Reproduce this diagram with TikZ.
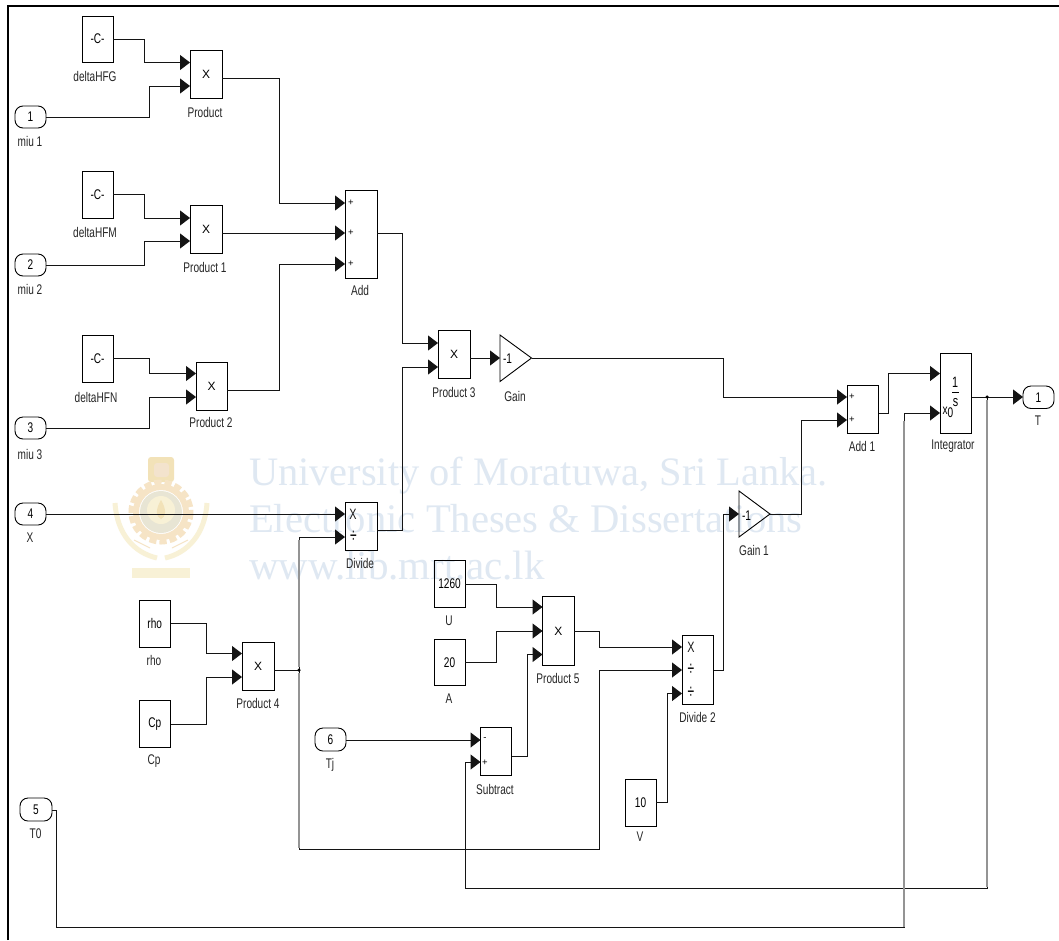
\documentclass[tikz,border=0pt]{standalone}
\usepackage{fontspec}
\setmainfont[FakeStretch=0.72]{Liberation Sans}
\newfontfamily\wmfont{Liberation Serif}
\newfontfamily\xfont{Liberation Sans}
\usetikzlibrary{arrows.meta}
\definecolor{wm}{HTML}{DFE8F2}
\definecolor{crestA}{HTML}{F6E4C6}
\definecolor{crestB}{HTML}{F8F1D6}
\definecolor{crestC}{HTML}{E8E5D4}
\definecolor{crestD}{HTML}{F2E2B8}
\tikzset{
  block/.style={draw=black,line width=0.9pt,inner sep=0pt,outer sep=0pt,font=\fontsize{14}{15}\selectfont},
  port/.style={block,rounded corners=8pt},
  lab/.style={inner sep=0pt,outer sep=0pt,font=\fontsize{14}{15}\selectfont,text=black!85},
  big/.style={inner sep=0pt,outer sep=0pt,font=\fontsize{15}{16}\selectfont,text=black!90},
  sign/.style={inner sep=0pt,outer sep=0pt,font=\xfont\fontsize{9.5}{10}\selectfont},
  sig/.style={draw=black!92,line width=1pt,-{Triangle[length=10pt,width=15pt]}},
  tailwire/.style={draw=black!92,line width=1pt},
  fade/.style={draw=black!42,line width=1.8pt},
  dot/.style={circle,fill=black,inner sep=0pt,outer sep=0pt,minimum size=3.5pt},
  mark text/.style={inner sep=0pt,outer sep=0pt,anchor=base west,text=wm},
}
\newcommand{\blk}[6]{\node[block,minimum width={(#4)-(#2)},minimum height={(#5)-(#3)}] (#1) at ({((#2)+(#4))/2},{((#3)+(#5))/2}) {#6};}
\newcommand{\prt}[6]{\node[port,minimum width={(#4)-(#2)},minimum height={(#5)-(#3)}] (#1) at ({((#2)+(#4))/2},{((#3)+(#5))/2}) {#6};}
\newcommand{\Xm}{{\xfont\fontsize{12}{13}\selectfont X}}
\newcommand{\dv}{\xfont\fontsize{12}{13}\selectfont\scalebox{1}[1.7]{÷}}
\begin{document}
\begin{tikzpicture}[x=1pt,y=-1pt]
\useasboundingbox (0,0) rectangle (1059,940);
\fill[white] (0,0) rectangle (1059,940);
% watermark
\node[mark text,font=\wmfont\fontsize{40.4}{44}\selectfont] (wm1) at (249,485) {University of Moratuwa, Sri Lanka.};
\node[mark text,font=\wmfont\fontsize{40.6}{44}\selectfont] (wm2) at (249,532) {Electronic Theses \& Dissertations};
\node[mark text,font=\wmfont\fontsize{41}{44}\selectfont] (wm3) at (249,579) {www.lib.mrt.ac.lk};
% crest
\fill[crestD,rounded corners=3pt] (148,457) rectangle (174,482);
\fill[crestA!80!brown!60!white,rounded corners=3pt] (154,463) rectangle (169,477);
\draw[crestA,line width=7pt,dash pattern=on 7pt off 3pt] (161,512) circle (29);
\draw[crestA,line width=6pt] (161,512) circle (25);
\fill[crestC] (161,512) circle (21);
\fill[crestB] (161,510) circle (14);
\fill[crestD] (161,500) .. controls (167,510) and (166,517) .. (161,519) .. controls (156,517) and (155,510) .. (161,500);
\draw[crestB,line width=5pt] (115,503) .. controls (117,535) and (135,553) .. (157,558);
\draw[crestB,line width=5pt] (207,503) .. controls (205,535) and (187,553) .. (165,558);
\fill[crestB] (132,568) rectangle (190,578);
\draw[crestA,line width=1pt] (134,540) -- (150,548) (188,540) -- (172,548);
% frame
\draw[black,line width=2.4pt] (7.7,940) -- (7.7,5.7) -- (1059,5.7);
% constants
\blk{dHFG}{82}{16}{113}{62}{-C-}
\blk{dHFM}{82}{171}{113}{218}{-C-}
\blk{dHFN}{82}{335}{113}{382}{-C-}
\blk{rho}{139}{600}{170.5}{647}{rho}
\blk{Cp}{139}{700.5}{170.5}{747.5}{Cp}
\blk{U}{434}{560}{465}{607}{1260}
\blk{A}{434}{639}{465}{685.5}{20}
\blk{V}{625}{779}{656}{826}{10}
% ports
\prt{in1}{15}{106}{46}{128}{1}
\prt{in2}{15}{254}{46}{276}{2}
\prt{in3}{15}{417}{46}{439}{3}
\prt{in4}{15}{503}{46}{525}{4}
\prt{in5}{20}{798}{52}{821}{5}
\prt{in6}{315}{728}{346}{751}{6}
\prt{outT}{1023}{386}{1054}{408.5}{1}
% products
\blk{Prod}{190}{50}{222}{98}{\Xm}
\blk{Prod1}{190}{205}{222}{253}{\Xm}
\blk{Prod2}{196}{362}{227}{410}{\Xm}
\blk{Prod3}{438}{330}{470}{378.5}{\Xm}
\blk{Prod4}{242}{642}{274}{690}{\Xm}
\blk{Prod5}{542.5}{596.5}{574}{665.5}{\Xm}
\blk{Add}{345}{190}{377}{278}{}
\blk{Addb}{847}{385}{878.5}{433}{}
\blk{Divide}{345}{502}{377}{550}{}
\blk{Divideb}{682}{635}{713.5}{704}{}
\blk{Subtract}{480.5}{727.5}{511.5}{775.5}{}
\blk{Integ}{940}{353.5}{971.5}{433}{}
% gains
\coordinate (Gin) at (500,358);
\coordinate (Gout) at (531.5,358);
\coordinate (Gbin) at (739,514);
\coordinate (Gbout) at (770,514);
\draw[black,line width=0.9pt,line join=miter] (500,335) -- (Gout) -- (500,381.5) -- cycle;
\draw[black,line width=0.9pt,line join=miter] (739,491) -- (Gbout) -- (739,537) -- cycle;
% block signs
\node[sign] (a1) at (351,203) {+};
\node[sign] (a2) at (351,233) {+};
\node[sign] (a3) at (351,264) {+};
\node[sign] (b1) at (852,397) {+};
\node[sign] (b2) at (852,420) {+};
\node[big] (d1) at (353,514) {X};
\node[sign] (d2) at (353.5,537) {\dv};
\node[big] (e1) at (691,647) {X};
\node[sign] (e2) at (691,670) {\dv};
\node[sign] (e3) at (691,693) {\dv};
\node[sign] (s1) at (485,739) {-};
\node[sign] (s2) at (485,763) {+};
\node[lab,text=black] (g1) at (507.5,359) {-1};
\node[lab,text=black] (g2) at (746.5,516) {-1};
\node[big,text=black] (i1) at (955,382) {1};
\draw[black,line width=1pt] (952,392) -- (959,392);
\node[big,text=black] (i2) at (955.5,403) {s};
\node[lab,text=black] (i3) at (948,412) {x\raisebox{-3pt}{0}};
% labels
\node[lab] (ldHFG) at (95,76) {deltaHFG};
\node[lab] (ldHFM) at (95,232) {deltaHFM};
\node[lab] (ldHFN) at (96,397) {deltaHFN};
\node[lab] (lmiu1) at (30,141) {miu 1};
\node[lab] (lmiu2) at (30,289) {miu 2};
\node[lab] (lmiu3) at (30,454) {miu 3};
\node[lab] (lX) at (30,538) {X};
\node[lab] (lT0) at (35.5,834) {T0};
\node[lab] (lTj) at (330,765) {Tj};
\node[lab] (lT) at (1038,421) {T};
\node[lab] (lProd) at (205,112) {Product};
\node[lab] (lProd1) at (205,267) {Product 1};
\node[lab] (lProd2) at (211,422) {Product 2};
\node[lab] (lProd3) at (454,392) {Product 3};
\node[lab] (lProd4) at (258,703) {Product 4};
\node[lab] (lProd5) at (558,678) {Product 5};
\node[lab] (lAdd) at (360,290) {Add};
\node[lab] (lAddb) at (862,446) {Add 1};
\node[lab] (lInteg) at (953,446) {Integrator};
\node[lab] (lGain) at (515,396) {Gain};
\node[lab] (lGainb) at (754,550) {Gain 1};
\node[lab] (lDivide) at (360,563) {Divide};
\node[lab] (lDivideb) at (697.5,717) {Divide 2};
\node[lab] (lSub) at (495,789) {Subtract};
\node[lab] (lrho) at (154,660) {rho};
\node[lab] (lCp) at (154,761) {Cp};
\node[lab] (lU) at (449,621) {U};
\node[lab] (lA) at (449,699) {A};
\node[lab] (lV) at (640,837) {V};
% junction positions
\coordinate (j1) at (299,670);
\coordinate (j2) at (987,397);
% connectors
\draw[sig] (dHFG.east |- 0,39.5) -| (144,62.5) -- (Prod.west |- 0,62.5);
\draw[sig] (in1.east) -| (149,86) -- (Prod.west |- 0,86);
\draw[sig] (dHFM.east |- 0,194) -| (144,218) -- (Prod1.west |- 0,218);
\draw[sig] (in2.east) -| (144,241) -- (Prod1.west |- 0,241);
\draw[sig] (dHFN.east |- 0,358) -| (149,373.5) -- (Prod2.west |- 0,373.5);
\draw[sig] (in3.east) -| (149,397) -- (Prod2.west |- 0,397);
\draw[sig] (Prod.east |- 0,78) -| (279,203) -- (Add.west |- 0,203);
\draw[sig] (Prod1.east |- 0,233) -- (Add.west |- 0,233);
\draw[sig] (Prod2.east |- 0,390) -| (279,264) -- (Add.west |- 0,264);
\draw[sig] (Add.east |- 0,233) -| (402,343) -- (Prod3.west |- 0,343);
\draw[sig] (Divide.east |- 0,530) -| (402,367) -- (Prod3.west |- 0,367);
\draw[sig] (Prod3.east |- 0,358) -- (Gin);
\draw[sig] (Gout) -| (723,397) -- (Addb.west |- 0,397);
\draw[sig] (in4.east) -- (Divide.west |- 0,514);
\draw[tailwire] (Prod4.east |- 0,670) -- (j1);
\draw[sig] (j1) -- (299,537) -- (Divide.west |- 0,537);
\draw[sig] (j1) -- (299,849) -- (599,849) -- (599,670) -- (Divideb.west |- 0,670);
\draw[sig] (rho.east |- 0,623.5) -| (206,653.5) -- (Prod4.west |- 0,653.5);
\draw[sig] (Cp.east |- 0,724) -| (206,677) -- (Prod4.west |- 0,677);
\draw[sig] (U.east |- 0,584) -| (496,607) -- (Prod5.west |- 0,607);
\draw[sig] (A.east |- 0,662) -| (496,631) -- (Prod5.west |- 0,631);
\draw[sig] (Subtract.east |- 0,756) -| (527,654.5) -- (Prod5.west |- 0,654.5);
\draw[sig] (Prod5.east |- 0,631) -| (599,647) -- (Divideb.west |- 0,647);
\draw[sig] (V.east |- 0,802) -| (667,693.5) -- (Divideb.west |- 0,693.5);
\draw[sig] (in6.east |- 0,740) -- (Subtract.west |- 0,740);
\draw[sig] (Divideb.east |- 0,670) -| (723,514) -- (Gbin);
\draw[sig] (Gbout) -| (801,420) -- (Addb.west |- 0,420);
\draw[sig] (Addb.east |- 0,413) -| (888,373.5) -- (Integ.west |- 0,373.5);
\draw[sig] (in5.east |- 0,810) -| (56.5,927.5) -- (904,927.5) -- (904,413) -- (Integ.west |- 0,413);
\draw[sig] (Integ.east |- 0,397) -- (outT.west |- 0,397);
\draw[tailwire] (j2) -- (987,888) -- (465,888) -- (465,762);
\draw[sig] (465,762) -- (Subtract.west |- 0,762);
% lighter long vertical runs
\draw[fade] (904,421) -- (904,927);
\draw[fade] (987,400) -- (987,887);
\draw[fade] (299,540) -- (299,667);
\draw[fade] (299,673) -- (299,848);
% junction dots
\node[dot] (jd1) at (j1) {};
\node[dot] (jd2) at (j2) {};
\end{tikzpicture}
\end{document}
